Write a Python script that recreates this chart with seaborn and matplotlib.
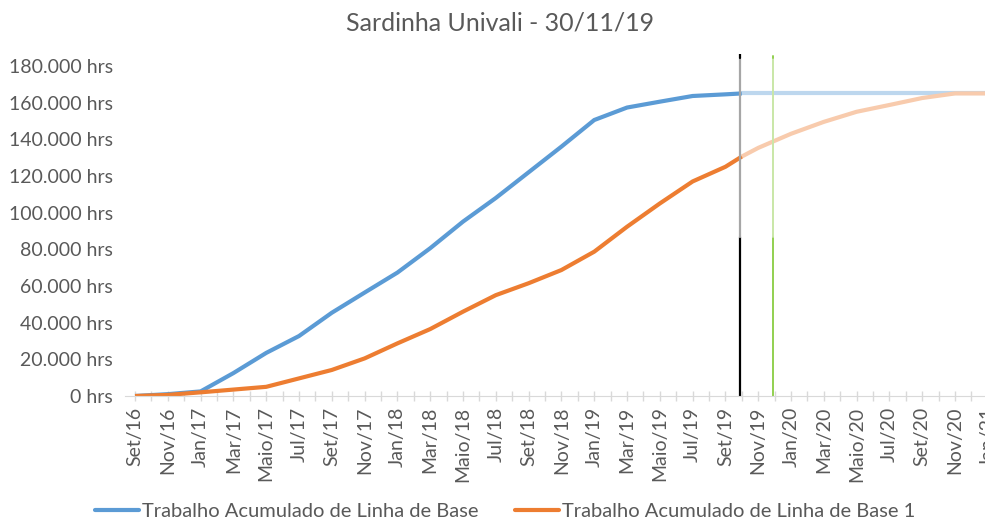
import numpy as np
import pandas as pd
import seaborn as sns
import matplotlib.pyplot as plt
from matplotlib.lines import Line2D
from matplotlib.ticker import FuncFormatter, MultipleLocator

# ================= DADOS =================
TITULO = 'Sardinha Univali - 30/11/19'
ROTULOS_X = ['Set/16', 'Nov/16', 'Jan/17', 'Mar/17', 'Maio/17', 'Jul/17', 'Set/17',
             'Nov/17', 'Jan/18', 'Mar/18', 'Maio/18', 'Jul/18', 'Set/18', 'Nov/18',
             'Jan/19', 'Mar/19', 'Maio/19', 'Jul/19', 'Set/19', 'Nov/19', 'Jan/20',
             'Mar/20', 'Maio/20', 'Jul/20', 'Set/20', 'Nov/20', 'Jan/21']

# meses desde Set/16
meses_real = [0, 2, 4, 6, 8, 10, 12, 14, 16, 18, 20, 22, 24, 26, 28, 30, 32, 34, 36, 37]
base_real = [0, 1000, 2500, 12500, 23500, 32700, 45400, 56400, 67300, 80600, 95100,
             108000, 122000, 136000, 150500, 157300, 160500, 163600, 164500, 165000]
base1_real = [0, 600, 2000, 3500, 5000, 9600, 14200, 20500, 28700, 36500, 46000,
              55000, 61500, 68700, 78700, 92300, 105000, 117000, 125000, 130600]

meses_proj = [37, 38, 40, 42, 44, 46, 48, 50, 52]
base_proj = [165000, 165000, 165000, 165000, 165000, 165000, 165000, 165000, 165000]
base1_proj = [130600, 135300, 143000, 149500, 155000, 158700, 162500, 165000, 165000]

linha_status = 36.9   # linha preta
linha_data = 38.9     # linha verde (30/11/19)

SERIES = ['Trabalho Acumulado de Linha de Base', 'Trabalho Acumulado de Linha de Base 1']
AZUL, LARANJA = '#5B9BD5', '#ED7D31'
AZUL_CLARO, LARANJA_CLARO = '#BDD7EE', '#F8CBAD'
CINZA = '#595959'

# ================= PLOT =================
sns.set_style('white')
plt.rcParams['font.family'] = ['Lato', 'DejaVu Sans']

fig = plt.figure(figsize=(9.85, 5.21), dpi=100)
ax = fig.add_axes([125 / 985, 125 / 521, 875 / 985, 342 / 521])

sns.lineplot(x=meses_proj, y=base_proj, color=AZUL_CLARO, lw=3, ax=ax, solid_capstyle='butt')
sns.lineplot(x=meses_proj, y=base1_proj, color=LARANJA_CLARO, lw=3, ax=ax, solid_capstyle='butt')
sns.lineplot(x=meses_real, y=base_real, color=AZUL, lw=3, ax=ax, solid_capstyle='butt')
sns.lineplot(x=meses_real, y=base1_real, color=LARANJA, lw=3, ax=ax, solid_capstyle='butt')

# linhas verticais
corte = 86700
ax.plot([linha_status] * 2, [0, corte], color='black', lw=1.6)
ax.plot([linha_status] * 2, [corte, 184500], color='#A6A6A6', lw=1.6)
ax.plot([linha_status] * 2, [184500, 186500], color='black', lw=1.6)
ax.plot([linha_data] * 2, [0, corte], color='#92D050', lw=1.4)
ax.plot([linha_data] * 2, [corte, 184500], color='#C9E7A7', lw=1.4)
ax.plot([linha_data] * 2, [184500, 185500], color='#92D050', lw=1.4)

ax.set_xlim(-0.61, 52.74)
ax.set_ylim(0, 186500)

ax.set_xticks(np.arange(0, 2 * len(ROTULOS_X), 2))
ax.set_xticklabels(ROTULOS_X, rotation=90, fontsize=14, color=CINZA)
ax.xaxis.set_minor_locator(MultipleLocator(1))
ax.tick_params(axis='x', which='both', direction='inout', length=7, width=1,
               color='#D9D9D9', pad=4, bottom=True)

ax.set_yticks(np.arange(0, 180001, 20000))
ax.yaxis.set_major_formatter(FuncFormatter(lambda v, p: f'{int(v):,}'.replace(',', '.') + ' hrs'))
ax.tick_params(axis='y', length=0, labelsize=14, labelcolor=CINZA, pad=8.5)

sns.despine(ax=ax, left=True, top=True, right=True)
ax.spines['bottom'].set_color('#D9D9D9')
ax.set_xlabel('')
ax.set_ylabel('')

fig.text(0.508, 0.955, TITULO, ha='center', va='center', fontsize=18, color=CINZA)

handles = [Line2D([], [], color=AZUL, lw=3), Line2D([], [], color=LARANJA, lw=3)]
leg = fig.legend(handles, SERIES, loc='center', bbox_to_anchor=(0.513, 10 / 521), ncol=2,
                 frameon=False, fontsize=14.5, handlelength=2.2, handletextpad=0.15,
                 columnspacing=1.8)
for t in leg.get_texts():
    t.set_color(CINZA)

fig.savefig('out.png', dpi=100)
